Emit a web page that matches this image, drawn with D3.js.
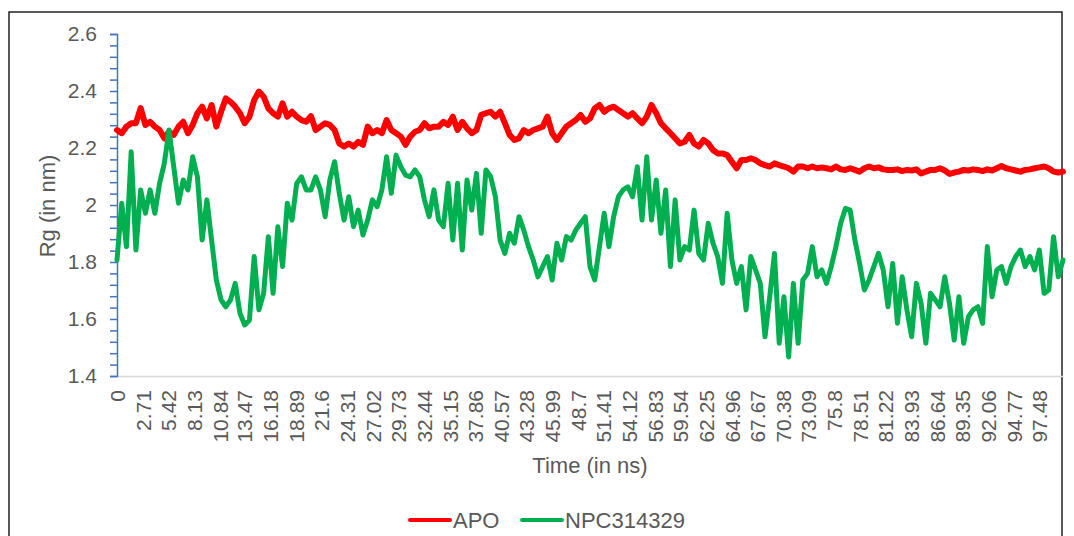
<!DOCTYPE html>
<html>
<head>
<meta charset="utf-8">
<script src="https://cdn.jsdelivr.net/npm/d3@7"></script>
<style>
  body { margin: 0; background: #fff; }
  svg { display: block; font-family: "Liberation Sans", Arial, sans-serif; }
</style>
</head>
<body>
<div class="canvas"></div>
<script>
// time axis labels (every 2.71 ns, as in the source sheet)
const xTickLabels = ["0","2.71","5.42","8.13","10.84","13.47","16.18","18.89","21.6","24.31",
  "27.02","29.73","32.44","35.15","37.86","40.57","43.28","45.99","48.7","51.41","54.12",
  "56.83","59.54","62.25","64.96","67.67","70.38","73.09","75.8","78.51","81.22","83.93",
  "86.64","89.35","92.06","94.77","97.48"];
const yTickLabels = [1.4, 1.6, 1.8, 2.0, 2.2, 2.4, 2.6];

// samples, one every 0.5 ns from 0 to 100 ns
const timeStep = 0.5;

const apo = [
  2.263,2.252,2.275,2.287,2.287,2.340,2.281,2.292,2.275,2.263,
  2.234,2.257,2.246,2.275,2.292,2.252,2.281,2.322,2.345,2.304,
  2.351,2.275,2.327,2.374,2.362,2.345,2.322,2.287,2.310,2.368,
  2.398,2.380,2.339,2.322,2.310,2.357,2.310,2.327,2.310,2.298,
  2.292,
  2.312,2.263,2.275,2.287,2.281,2.263,2.216,2.205,2.216,2.205,
  2.222,2.211,2.275,2.252,2.263,2.252,2.298,2.263,2.252,2.240,
  2.211,2.240,2.257,2.263,2.287,2.269,2.275,2.275,2.292,2.281,
  2.310,2.263,2.292,2.269,2.252,2.263,2.316,2.322,2.327,2.310,
  2.327,2.287,2.246,2.228,2.234,2.263,2.252,2.263,2.269,2.275,
  2.310,2.252,2.228,2.252,2.275,2.287,2.298,2.316,2.292,2.304,
  2.339,2.351,2.327,2.339,2.345,2.333,2.322,2.310,2.322,2.304,
  2.287,2.310,2.351,2.322,2.287,2.269,2.252,2.234,2.216,2.222,
  2.246,2.216,2.205,2.228,2.216,2.193,2.181,2.181,2.175,2.152,
  2.129,2.158,2.158,2.164,2.158,2.146,2.140,2.135,2.146,2.140,
  2.135,2.129,2.117,2.135,2.135,2.129,2.135,2.129,2.132,2.129,
  2.125,2.135,2.125,2.123,2.129,2.123,2.117,2.129,2.135,
  2.129,2.132,2.125,2.123,2.123,2.125,2.119,2.123,2.121,2.125,
  2.111,2.117,2.123,2.123,2.129,2.121,2.109,2.114,2.117,2.123,
  2.121,2.125,2.123,2.119,2.125,2.121,2.129,2.137,2.129,2.125,
  2.121,2.117,2.123,2.125,2.129,2.132,2.135,2.129,2.117,2.114,2.117
];

const npc = [
  1.807,2.006,1.854,2.187,1.842,2.053,1.971,2.053,1.971,2.076,
  2.146,2.263,2.134,2.006,2.088,2.053,2.169,2.099,1.877,2.018,
  1.877,1.737,1.667,1.643,1.667,1.725,1.620,1.579,1.596,1.819,
  1.632,1.690,1.889,1.690,1.924,1.784,2.006,1.947,2.076,2.099,
  2.053,
  2.053,2.099,2.053,1.959,2.088,2.152,2.041,1.947,2.029,1.924,
  1.982,1.895,1.947,2.018,1.994,2.053,2.169,2.041,2.175,2.134,
  2.105,2.099,2.123,2.099,2.018,1.959,2.053,1.947,1.924,2.076,
  1.877,2.076,1.842,2.088,1.982,2.111,1.901,2.123,2.099,2.029,
  1.877,1.830,1.901,1.866,1.959,1.912,1.854,1.807,1.748,1.784,
  1.819,1.737,1.866,1.807,1.889,1.877,1.912,1.936,1.959,1.784,
  1.737,1.854,1.971,1.854,1.959,2.029,2.053,2.064,2.029,2.134,
  1.947,2.169,1.947,2.088,1.901,2.053,1.784,2.018,1.807,1.854,
  1.842,1.982,1.830,1.807,1.936,1.866,1.819,1.725,1.971,1.807,
  1.725,1.784,1.632,1.819,1.772,1.725,1.538,1.678,1.830,1.515,
  1.678,1.467,1.725,1.515,1.737,1.760,1.854,1.748,1.772,1.725,
  1.784,1.854,1.936,1.988,1.982,1.877,1.795,1.702,1.737,
  1.784,1.830,1.772,1.643,1.795,1.585,1.748,1.632,1.538,1.725,
  1.655,1.515,1.690,1.667,1.643,1.748,1.655,1.526,1.678,1.515,
  1.608,1.632,1.643,1.585,1.854,1.678,1.772,1.784,1.725,1.784,
  1.819,1.842,1.784,1.819,1.772,1.842,1.690,1.702,1.889,1.748,1.807
];

const seriesNames = ["APO", "NPC314329"];
const seriesColors = ["#ff0000", "#00b050"];
const seriesWidths = [6, 5];

const width = 1074, height = 536;
const margin = { top: 34, right: 11, bottom: 160, left: 117 };
const textColor = "#595959";

const svg = d3.select(".canvas").append("svg")
  .attr("width", width)
  .attr("height", height);

// chart frame
svg.append("rect")
  .attr("x", 9).attr("y", 12)
  .attr("width", 1053).attr("height", 560)
  .attr("fill", "none")
  .attr("stroke", "#222")
  .attr("stroke-width", 1.5);

const x = d3.scaleLinear()
  .domain([0, 100])
  .range([margin.left, width - margin.right]);

const y = d3.scaleLinear()
  .domain([1.4, 2.6])
  .range([height - margin.bottom, margin.top]);

// x axis: plain grey line + rotated labels
svg.append("g")
  .attr("transform", `translate(0,${height - margin.bottom})`)
  .call(d3.axisBottom(x).tickValues(xTickLabels.map(Number)).tickSize(0)
    .tickFormat((d, i) => xTickLabels[i]))
  .call(g => g.select(".domain").attr("stroke", "#d9d9d9").attr("stroke-width", 1.5))
  .call(g => g.selectAll("text")
    .attr("x", -14).attr("y", 0).attr("dy", "0.36em")
    .attr("transform", "rotate(-90)")
    .attr("text-anchor", "end")
    .attr("fill", textColor)
    .style("font-size", "21px"));

// y axis: blue line with a tick every 0.04
svg.append("g")
  .attr("transform", `translate(${margin.left},0)`)
  .call(d3.axisLeft(y).tickValues(d3.range(0, 31).map(i => 1.4 + i * 0.04))
    .tickSize(7).tickFormat(""))
  .call(g => g.selectAll(".domain, line").attr("stroke", "#4472c4").attr("stroke-width", 1.5));

svg.append("g")
  .attr("transform", `translate(${margin.left},0)`)
  .call(d3.axisLeft(y).tickValues(yTickLabels).tickSize(0).tickPadding(20)
    .tickFormat(d3.format("~g")))
  .call(g => g.select(".domain").remove())
  .call(g => g.selectAll("text").attr("fill", textColor).style("font-size", "21px"));

// axis titles
svg.append("text")
  .attr("x", (margin.left + width - margin.right) / 2)
  .attr("y", 473)
  .attr("text-anchor", "middle")
  .attr("fill", textColor)
  .style("font-size", "22px")
  .text("Time (in ns)");

svg.append("text")
  .attr("transform", "translate(55,206) rotate(-90)")
  .attr("text-anchor", "middle")
  .attr("fill", textColor)
  .style("font-size", "22px")
  .text("Rg (in nm)");

// lines
const line = d3.line()
  .x((d, i) => x(i * timeStep))
  .y(d => y(d));

[apo, npc].forEach((values, k) => {
  svg.append("path")
    .datum(values)
    .attr("fill", "none")
    .attr("stroke", seriesColors[k])
    .attr("stroke-width", seriesWidths[k])
    .attr("stroke-linejoin", "round")
    .attr("stroke-linecap", "round")
    .attr("d", line);
});

// legend
const legendX = [410, 522];
const legend = svg.append("g");
seriesNames.forEach((name, k) => {
  legend.append("line")
    .attr("x1", legendX[k]).attr("x2", legendX[k] + 40)
    .attr("y1", 520).attr("y2", 520)
    .attr("stroke", seriesColors[k])
    .attr("stroke-width", 4)
    .attr("stroke-linecap", "round");
  legend.append("text")
    .attr("x", legendX[k] + 43)
    .attr("y", 528)
    .attr("fill", textColor)
    .style("font-size", "22px")
    .text(name);
});
</script>
</body>
</html>
